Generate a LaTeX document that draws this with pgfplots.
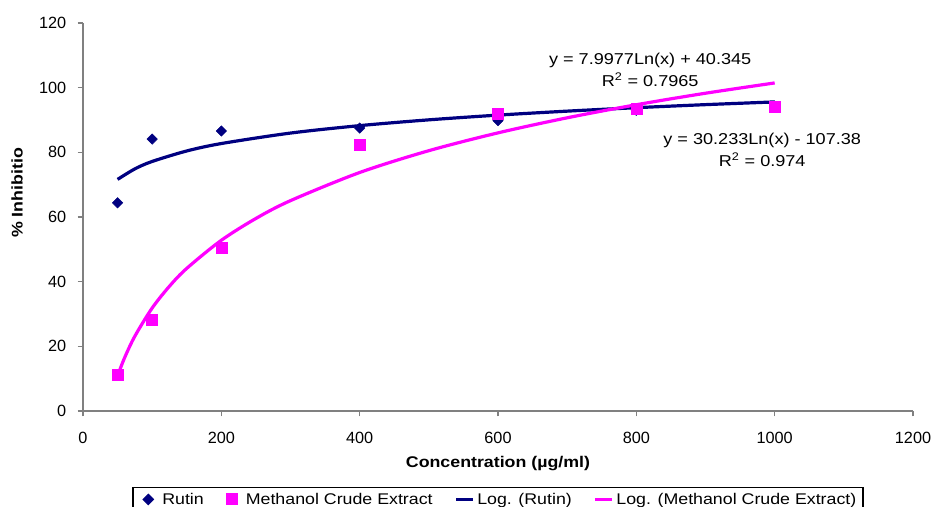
\documentclass[border=0pt]{standalone}
\usepackage{fontspec}
\setmainfont{Liberation Sans}
\newfontfamily\wide{Liberation Sans}[FakeStretch=1.15]
\usepackage{pgfplots}
\pgfplotsset{compat=1.18}
\pgfplotsset{
  shortline/.style={legend image code/.code={\path[draw=none,fill=none] (0pt,0pt) -- (5pt,0pt); \draw[##1] (5pt,0pt) -- (17.75pt,0pt);}},
  padmark/.style={legend image code/.code={\path[draw=none,fill=none] (0pt,0pt) -- (17pt,0pt); \draw[##1,draw=none] plot coordinates {(8.5pt,0pt)};}},
}
\definecolor{rutin}{RGB}{0,0,128}
\definecolor{meth}{RGB}{255,0,255}
\definecolor{axgray}{RGB}{128,128,128}
\begin{document}
\begin{tikzpicture}
\begin{axis}[
  at={(0,0)}, anchor=south west,
  scale only axis, width=622.5pt, height=291pt,
  xmin=0, xmax=1200, ymin=0, ymax=120,
  xtick={0,200,...,1200}, ytick={0,20,...,120},
  axis x line*=bottom, axis y line*=left,
  axis line style={axgray, line width=1.1pt},
  tick style={axgray, line width=1.1pt},
  tick align=outside, major tick length=4pt,
  tick label style={font=\fontsize{12.2}{14}\selectfont},
  xticklabel style={yshift=-8pt},
  yticklabel style={xshift=-5pt},
  /pgf/number format/assume math mode=true,
  /pgf/number format/1000 sep={},
  xlabel={\wide\bfseries Concentration (µg/ml)},
  ylabel={\wide\bfseries \% Inhibitio},
  every axis x label/.style={at={(axis description cs:0.5,-0.1366)}, anchor=center, font=\fontsize{11.6}{14}\selectfont},
  every axis y label/.style={at={(axis description cs:-0.0795,0.562)}, rotate=90, anchor=center, font=\fontsize{11.6}{14}\selectfont},
  legend style={at={(axis description cs:0.5,-0.1959)}, anchor=north, legend columns=4,
    draw=black, line width=0.8pt, font=\wide\fontsize{11.6}{14}\selectfont,
    /tikz/every even column/.append style={column sep=10.5pt}},
  clip=false,
]
% trend lines (computed from the displayed fit equations)
\addplot[rutin, line width=2.4pt, smooth, forget plot] coordinates {
(50,71.63) (75,74.88) (100,77.18) (150,80.42) (200,82.72) (300,85.96) (400,88.26)
(500,90.05) (600,91.51) (700,92.74) (800,93.81) (900,94.75) (1000,95.59)};
\addplot[meth, line width=2.4pt, smooth, forget plot] coordinates {
(50,10.89) (60,16.40) (75,23.15) (100,31.85) (125,38.59) (150,44.11) (200,52.80)
(250,59.55) (300,65.06) (400,73.76) (500,80.51) (600,86.02) (700,90.68)
(800,94.72) (900,98.28) (1000,101.46)};
% data points
\addplot[only marks, mark=square*, mark size=2.75pt, mark options={rotate=45, fill=rutin, draw=rutin}, forget plot] coordinates {
(50,64.4) (100,84.1) (200,86.6) (400,87.5) (600,89.8) (800,93.0) (1000,94.3)};
\addplot[only marks, mark=square*, mark size=4.1pt, mark options={fill=meth, draw=meth}, forget plot] coordinates {
(50,11.2) (100,28.1) (200,50.4) (400,82.3) (600,91.8) (800,93.4) (1000,94.0)};
\addlegendimage{only marks, mark=square*, mark size=2.75pt, mark options={rotate=45, fill=rutin, draw=rutin}, padmark}
\addlegendentry{Rutin}
\addlegendimage{only marks, mark=square*, mark size=4.1pt, mark options={fill=meth, draw=meth}, padmark}
\addlegendentry{Methanol Crude Extract}
\addlegendimage{rutin, line width=2.4pt, shortline}
\addlegendentry{Log. (Rutin)}
\addlegendimage{meth, line width=2.4pt, shortline}
\addlegendentry{Log. (Methanol Crude Extract)}
% fit annotations
\node[anchor=base, font=\wide\fontsize{11.8}{14}\selectfont] at (axis cs:820,107.2) {y = 7.9977Ln(x) + 40.345};
\node[anchor=base, font=\wide\fontsize{11.8}{14}\selectfont] at (axis cs:820,100.5) {R\textsuperscript{2} = 0.7965};
\node[anchor=base, font=\wide\fontsize{11.8}{14}\selectfont] at (axis cs:982,82.3) {y = 30.233Ln(x) - 107.38};
\node[anchor=base, font=\wide\fontsize{11.8}{14}\selectfont] at (axis cs:982,75.6) {R\textsuperscript{2} = 0.974};
\end{axis}
\pgfresetboundingbox
\useasboundingbox (-62.25pt,-72pt) rectangle (639.75pt,308.25pt);
\end{tikzpicture}
\end{document}
